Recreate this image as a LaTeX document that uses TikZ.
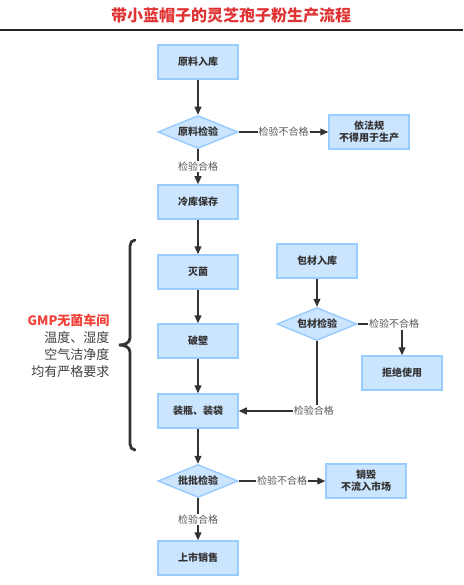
\documentclass[tikz,border=0pt]{standalone}
\usepackage{fontspec}
\setmainfont{Noto Sans CJK SC}
\usetikzlibrary{arrows.meta,shapes.geometric}
\definecolor{boxfill}{HTML}{CCE5FF}
\definecolor{boxline}{HTML}{99CCFF}
\definecolor{ink}{HTML}{333333}
\definecolor{titlered}{HTML}{E03333}
\definecolor{gmpred}{HTML}{F04038}
\begin{document}
\begin{tikzpicture}[x=1pt, y=-1pt, >={Triangle[length=8pt,width=7pt]}]
    \tikzstyle{box}=[rectangle, draw=boxline, fill=boxfill, line width=1.5pt, minimum width=80pt, minimum height=34pt, align=center, text=ink, font=\bfseries\fontsize{10}{12}\selectfont];
    \tikzstyle{dia}=[diamond, aspect=2.4, inner sep=0pt, draw=boxline, fill=boxfill, line width=1.5pt, minimum width=80pt, minimum height=33pt, text=ink, font=\bfseries\fontsize{10}{12}\selectfont];
    \tikzstyle{lbl}=[fill=white, inner sep=1pt, text=black!65, font=\fontsize{10}{12}\selectfont];
    \tikzstyle{every edge}=[draw=ink, line width=1.2pt];

    \useasboundingbox (0,0) rectangle (463,585);

    % title
    \node (title) at (231,15) [text=titlered, font=\bfseries\fontsize{16}{18}\selectfont] {带小蓝帽子的灵芝孢子粉生产流程};
    \coordinate (ruleL) at (0,30);
    \coordinate (ruleR) at (463,30);
    \draw[line width=1.5pt, black!85] (ruleL) -- (ruleR);

    % main line
    \node (rawin) at (198,62) [box] {原料入库};
    \node (rawchk) at (198,132) [dia] {原料检验};
    \node (law) at (369,132) [box] {依法规\\不得用于生产};
    \node (cold) at (198,202) [box] {冷库保存};
    \node (steril) at (198,272) [box] {灭菌};
    \node (wall) at (198,341) [box] {破壁};
    \node (fill) at (198,411) [box] {装瓶、装袋};
    \node (batch) at (198,481) [dia] {批批检验};
    \node (destroy) at (366,481) [box] {销毁\\不流入市场};
    \node (market) at (198,558) [box] {上市销售};

    % packaging
    \node (pkgin) at (317,261) [box] {包材入库};
    \node (pkgchk) at (317,324) [dia] {包材检验};
    \node (refuse) at (402,373) [box] {拒绝使用};

    \draw (rawin) edge[->] (rawchk);
    \draw (rawchk) edge[->] node[lbl] {检验不合格} (law);
    \draw (rawchk) edge[->] node[lbl] {检验合格} (cold);
    \draw (cold) edge[->] (steril);
    \draw (steril) edge[->] (wall);
    \draw (wall) edge[->] (fill);
    \draw (fill) edge[->] (batch);
    \draw (batch) edge[->] node[lbl] {检验不合格} (destroy);
    \draw (batch) edge[->] node[lbl] {检验合格} (market);

    \draw (pkgin) edge[->] (pkgchk);
    \draw[->, draw=ink, line width=1.2pt] (pkgchk.east) -| node[lbl, pos=0.41] {检验不合格} (refuse);
    \draw[->, draw=ink, line width=1.2pt] (pkgchk.south) |- node[lbl, pos=0.52] {检验合格} (fill);

    % GMP brace
    \coordinate (braceTop) at (135,240);
    \coordinate (braceBot) at (135,450);
    \draw[ink, line width=2.8pt, line cap=round] (braceTop) to[out=180,in=90] (130,246) -- (130,338)
        to[out=-90,in=0] (119,345) to[out=0,in=90] (130,352) -- (130,444) to[out=-90,in=180] (braceBot);
    \node (gmp) at (113,346) [anchor=east, align=right, text=black!75, font=\fontsize{13}{17}\selectfont]
        {\textcolor{gmpred}{\bfseries GMP无菌车间}\\温度、湿度\\空气洁净度\\均有严格要求};

\end{tikzpicture}
\end{document}
